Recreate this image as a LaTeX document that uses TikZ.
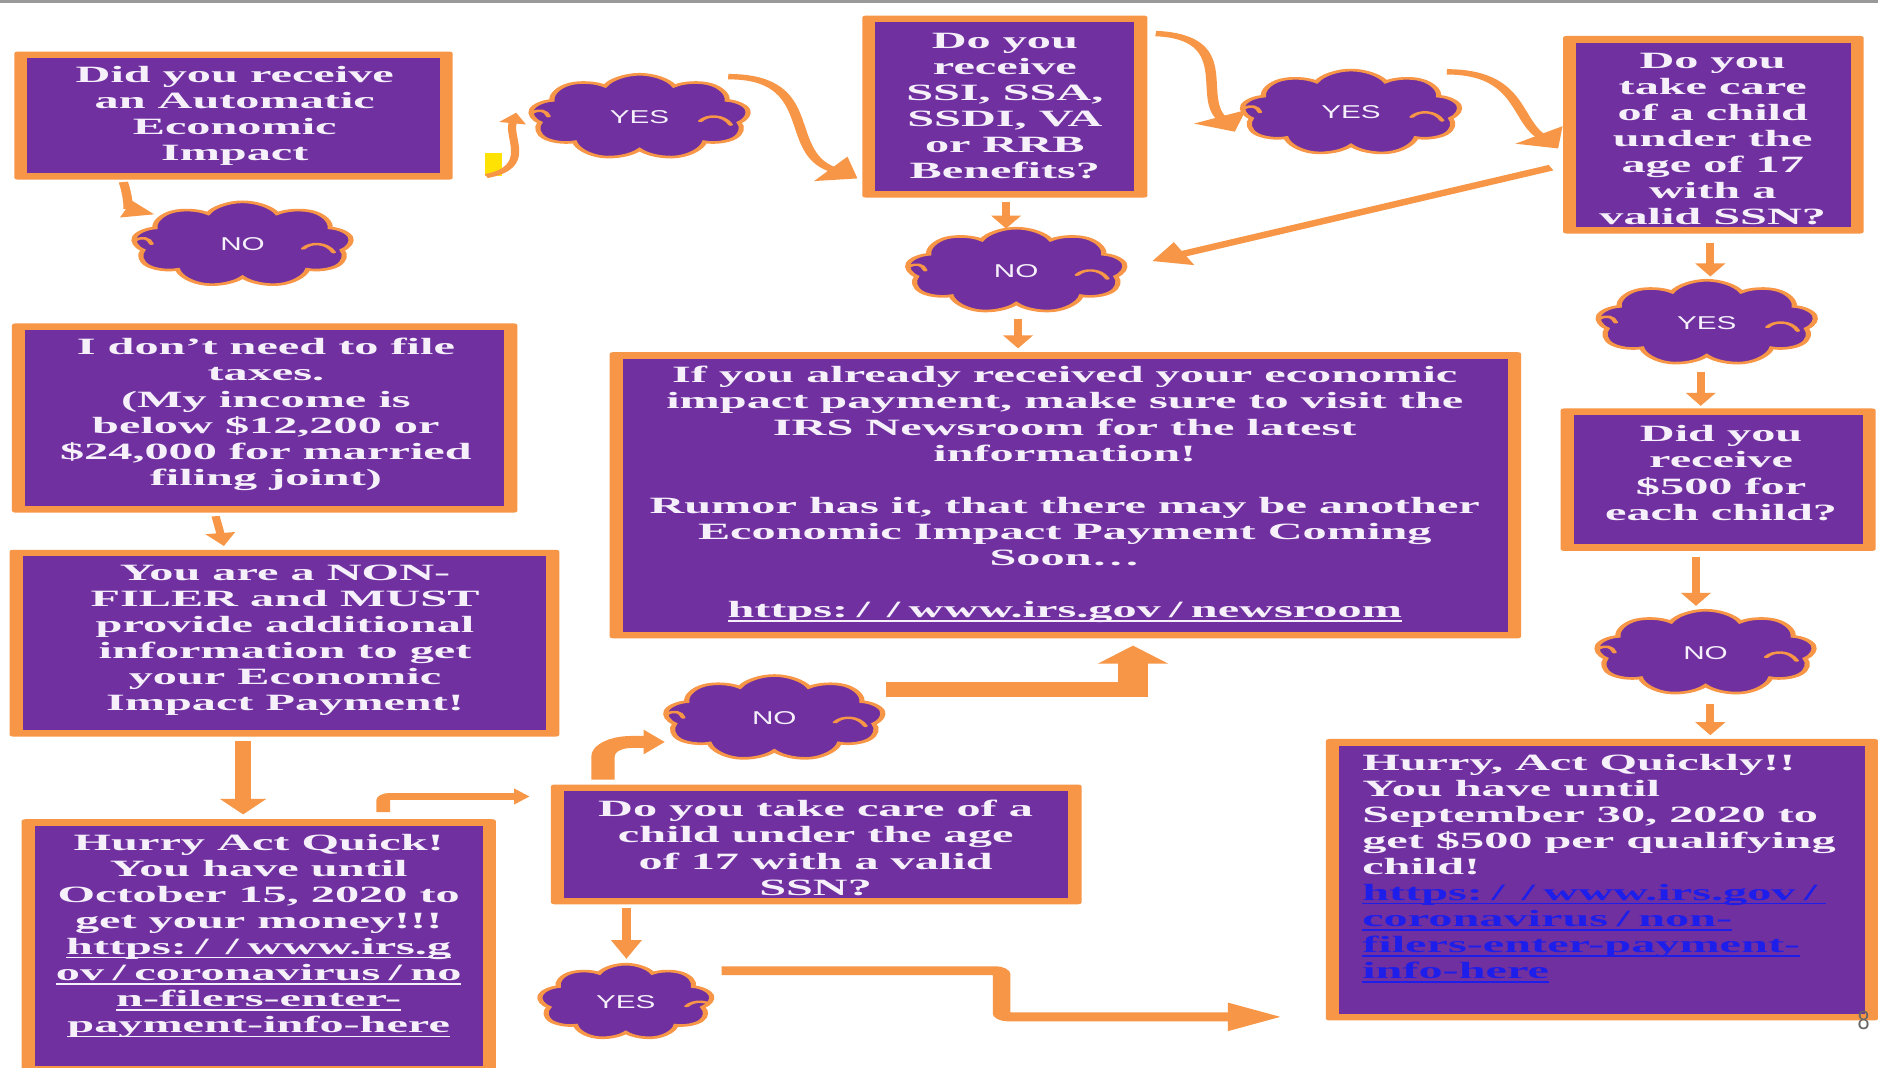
\documentclass[tikz,border=0pt]{standalone}
\usepackage{fontspec}
\setmainfont{Liberation Serif}
\newfontfamily\bx[FakeStretch=1.06]{Liberation Serif}
\newfontfamily\sx[FakeStretch=0.82]{Liberation Sans}
\usetikzlibrary{shapes.symbols,arrows.meta,calc}
\definecolor{pp}{RGB}{112,48,160}
\definecolor{oo}{RGB}{246,150,70}
\definecolor{tw}{RGB}{245,240,250}
\definecolor{lk}{RGB}{30,30,235}
\newcommand\ulx[1]{\setbox0=\hbox{#1}\rlap{\rule[-3.2pt]{\wd0}{1.1pt}}\box0}
\newcommand\sls{\hspace{3.6pt}/\hspace{3.6pt}}
\begin{document}
\begin{tikzpicture}[x=1pt,y=-1pt]
\useasboundingbox (0,0) rectangle (1568,891);
\fill[white] (0,0) rectangle (1568,891);
\fill[black!40] (0,0) rectangle (1568,2.5);
\begin{scope}[x=0.512821pt, transform canvas={xscale=1.95},
  box/.style={rectangle, fill=oo, inner sep=0pt, outer sep=0pt, rounded corners=1.5pt,
    path picture={\fill[pp,sharp corners] ([shift={(5.6pt,5.6pt)}]path picture bounding box.south west) rectangle ([shift={(-5.6pt,-5.6pt)}]path picture bounding box.north east);}},
  txt/.style={text=tw, align=center, inner sep=0pt, font=\bx\bfseries\fontsize{19.5pt}{21.8pt}\selectfont},
  cl/.style={cloud, cloud puffs=9, cloud puff arc=135, cloud ignores aspect, fill=pp, draw=oo, line width=2.2pt, text=tw,
    font=\sx\fontsize{15.5pt}{17pt}\selectfont, minimum width=93.8pt, minimum height=71pt, inner sep=0pt,
    path picture={\draw[oo, line width=2pt, line cap=round]
      ([shift={(26pt,-4pt)}]path picture bounding box.center) .. controls ([shift={(29pt,1.5pt)}]path picture bounding box.center) and ([shift={(36pt,1.5pt)}]path picture bounding box.center) .. ([shift={(39pt,-7pt)}]path picture bounding box.center);
      \draw[oo, line width=2pt, line cap=round]
      ([shift={(-46pt,3pt)}]path picture bounding box.center) .. controls ([shift={(-43pt,6pt)}]path picture bounding box.center) and ([shift={(-40pt,5pt)}]path picture bounding box.center) .. ([shift={(-39pt,0pt)}]path picture bounding box.center);}},
  va/.style={draw=oo, line width=3.5pt, -{Triangle[length=11pt,width=12pt]}},
  ca/.style={draw=oo, line width=4.5pt, -{Triangle[length=14pt,width=24pt]}}]

% boxes
\node[box, minimum width=187.69pt, minimum height=107pt] (b1) at (195,96.5) {};
\node[txt] (t1) at (196,97) {Did you receive\\an Automatic\\Economic\\Impact};
\node[box, minimum width=216.41pt, minimum height=158pt] (b2) at (221,349) {};
\node[txt] (t2) at (222,346) {I don’t need to file\\taxes.\\(My income is\\below \$12,200 or\\\$24,000 for married\\filing joint)};
\node[box, minimum width=235.38pt, minimum height=156pt] (b3) at (237.5,537) {};
\node[txt] (t3) at (238,534.5) {You are a NON-\\FILER and MUST\\provide additional\\information to get\\your Economic\\Impact Payment!};
\node[box, minimum width=203.08pt, minimum height=212pt] (b4) at (216,790) {};
\node[txt] (t4) at (216,781.5) {Hurry Act Quick!\\You have until\\October 15, 2020 to\\get your money!!!\\\ulx{https:\sls\sls www.irs.g}\\\ulx{ov\sls coronavirus\sls no}\\\ulx{n-filers-enter-}\\\ulx{payment-info-here}};
\node[box, minimum width=227.18pt, minimum height=100pt] (b5) at (681.5,705) {};
\node[txt] (t5) at (681,708) {Do you take care of a\\child under the age\\of 17 with a valid\\SSN?};
\node[box, minimum width=390.26pt, minimum height=239pt] (b6) at (889.5,413.5) {};
\node[txt] (t6) at (889,413) {If you already received your economic\\impact payment, make sure to visit the\\IRS Newsroom for the latest\\information!\\[21.8pt]Rumor has it, that there may be another\\Economic Impact Payment Coming\\Soon…\\[21.8pt]\ulx{https:\sls\sls www.irs.gov\sls newsroom}};
\node[box, minimum width=122.05pt, minimum height=152pt] (b7) at (839,89) {};
\node[txt] (t7) at (839,88.5) {Do you\\receive\\SSI, SSA,\\SSDI, VA\\or RRB\\Benefits?};
\node[box, minimum width=128.72pt, minimum height=165pt] (b8) at (1430.5,112.5) {};
\node[txt] (t8) at (1430,116) {Do you\\take care\\of a child\\under the\\age of 17\\with a\\valid SSN?};
\node[box, minimum width=134.87pt, minimum height=119pt] (b9) at (1434.5,400.5) {};
\node[txt] (t9) at (1437,395) {Did you\\receive\\\$500 for\\each child?};
\node[box, minimum width=236.41pt, minimum height=235pt] (b10) at (1337.5,734.5) {};
\node[txt, align=left, anchor=west] (t10) at (1137,725) {Hurry, Act Quickly!!\\You have until\\September 30, 2020 to\\get \$500 per qualifying\\child!\\{\color{lk}\ulx{https:\sls\sls www.irs.gov\sls}}\\{\color{lk}\ulx{coronavirus\sls non-}}\\{\color{lk}\ulx{filers-enter-payment-}}\\{\color{lk}\ulx{info-here}}};

% clouds
\node[cl] (NO1) at (202.5,204) {NO\hspace{5pt}};
\node[cl] (YES1) at (534,97.5) {YES\hspace{5pt}};
\node[cl] (NO2) at (848.5,226) {NO\hspace{5pt}};
\node[cl] (YES2) at (1128,94) {YES\hspace{5pt}};
\node[cl] (YES3) at (1425,269.5) {YES\hspace{5pt}};
\node[cl] (NO4) at (1424,545) {NO\hspace{5pt}};
\node[cl] (NO3) at (646.5,599.5) {NO\hspace{5pt}};
\node[cl, minimum width=74.36pt, minimum height=63pt] (YES4) at (522.5,836.5) {YES\hspace{5pt}};

% highlight mark
\fill[yellow!85!orange] (405,128) rectangle (419,147);

% connectors
\draw[draw=oo, line width=4pt, -{Triangle[length=13pt,width=14pt]}] ([shift={(-92,55.5)}]b1.center) to[out=-80,in=160] ([shift={(-73.5,-25)}]NO1.center);
\draw[draw=oo, line width=3.5pt, -{Triangle[length=9pt,width=11pt]}] ([shift={(211,50.5)}]b1.center) to[out=20,in=-100] ([shift={(-103,-3.5)}]YES1.center);
\draw[ca] ([shift={(74,-33.5)}]YES1.center) to[out=0,in=145] ([shift={(-123,60)}]b7.center);
\draw[va] ([shift={(1,80)}]b7.center) -- ([shift={(-8.5,-35)}]NO2.center);
\draw[va] ([shift={(1.5,40)}]NO2.center) -- ([shift={(-39.5,-122.5)}]b6.center);
\draw[ca] ([shift={(126,-61)}]b7.center) to[out=-5,in=117] ([shift={(-97,16)}]YES2.center);
\draw[ca] ([shift={(80,-34)}]YES2.center) to[out=0,in=126] ([shift={(-129.5,11.5)}]b8.center);
\draw[draw=oo, line width=5pt, -{Triangle[length=15pt,width=20pt]}] ([shift={(-135.5,27.5)}]b8.center) -- ([shift={(113.5,-8)}]NO2.center);
\draw[va] ([shift={(-2.5,90.5)}]b8.center) -- ([shift={(3,-38.5)}]YES3.center);
\draw[va] ([shift={(-5,41.5)}]YES3.center) -- ([shift={(-14.5,-61.5)}]b9.center);
\draw[va] ([shift={(-18.5,64.5)}]b9.center) -- ([shift={(-8,-39)}]NO4.center);
\draw[va] ([shift={(4,43)}]NO4.center) -- ([shift={(90.5,-120.5)}]b10.center);
\draw[va] ([shift={(-41,82)}]b2.center) -- ([shift={(-50.5,-81)}]b3.center);
\draw[draw=oo, line width=6.6pt, -{Triangle[length=13pt,width=19pt]}] ([shift={(-34.5,82)}]b3.center) -- ([shift={(-13,-110)}]b4.center);
\draw[draw=oo, line width=5.8pt, rounded corners=3pt, -{Triangle[length=6.5pt,width=13pt]}] ([shift={(104,-112)}]b4.center) |- ([shift={(-239.5,-40)}]b5.center);
\draw[draw=oo, line width=10pt, rounded corners=12pt, -{Triangle[length=9pt,width=20pt]}] ([shift={(-178,-54)}]b5.center) |- ([shift={(-91.5,20)}]NO3.center);
\draw[draw=oo, line width=13pt, line join=miter, -{Triangle[length=15pt,width=29pt]}] ([shift={(93.5,-24)}]NO3.center) -| ([shift={(56.5,125.5)}]b6.center);
\draw[draw=oo, line width=3.6pt, -{Triangle[length=16pt,width=12pt]}] ([shift={(-158.5,53)}]b5.center) -- ([shift={(0.5,-35.5)}]YES4.center);
\coordinate (s20) at ([shift={(80,-26)}]YES4.center);
\coordinate (e20) at ([shift={(-267.5,114.5)}]b10.center);
\draw[draw=oo, line width=7.5pt, rounded corners=3pt, -{Triangle[length=23pt,width=22pt]}] (s20) -| ($(s20)!0.5!(e20)$) |- (e20);
\end{scope}
\node[font=\sx\fontsize{22pt}{24pt}\selectfont, text=black!60, inner sep=0pt] (pg) at (1556,852) {8};
\end{tikzpicture}
\end{document}
